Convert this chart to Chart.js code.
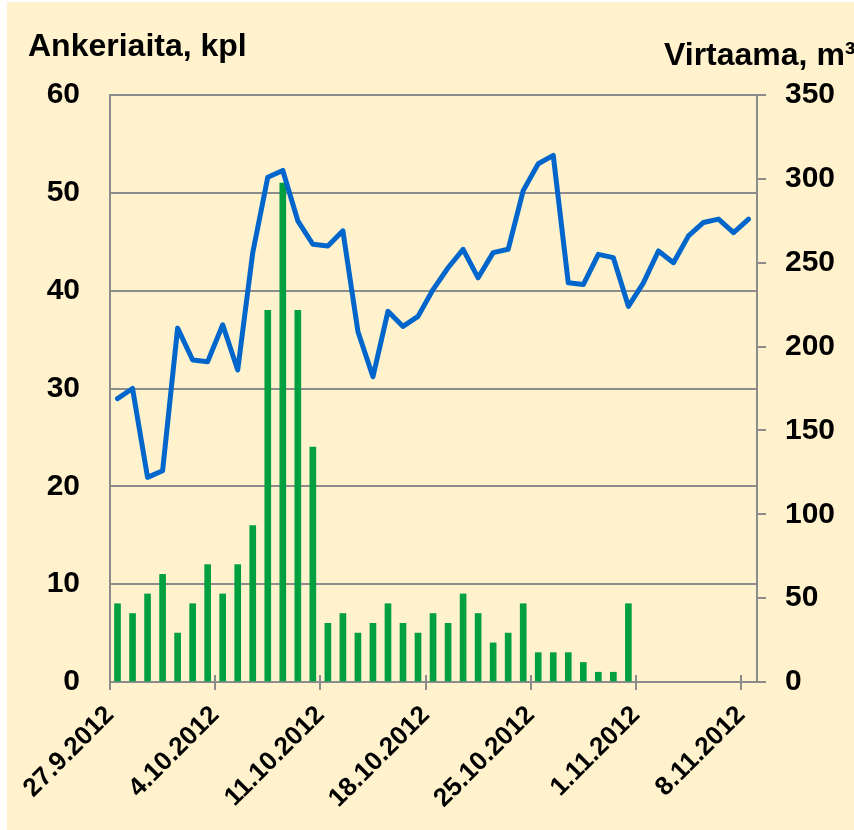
<!DOCTYPE html>
<html>
<head>
<meta charset="utf-8">
<script src="https://cdn.jsdelivr.net/npm/chart.js@4"></script>
<style>
  html, body { margin: 0; padding: 0; background: #ffffff; }
  #wrap { position: absolute; left: 7px; top: 2px; width: 847px; height: 828px; background: #FFF2CC; }
</style>
</head>
<body>
<div id="wrap"><canvas id="chart" width="847" height="828"></canvas></div>
<script>
// Ankeriaat (kpl/vrk), alkaen 27.9.2012
const eelCounts = [8, 7, 9, 11, 5, 8, 12, 9, 12, 16, 38, 51, 38, 24, 6, 7, 5, 6, 8, 6, 5,
                   7, 6, 9, 7, 4, 5, 8, 3, 3, 3, 2, 1, 1, 8];
// Virtaama m3/s, 27.9.2012 - 8.11.2012
const flowValues = [169, 175, 122, 126, 211, 192, 191, 213, 186, 256, 301, 305, 275, 261, 260,
                    269, 209, 182, 221, 212, 218, 234, 247, 258, 241, 256, 258, 293, 309, 314,
                    238, 237, 255, 253, 224, 238, 257, 250, 266, 274, 276, 268, 276];
const tickLabels = ['27.9.2012', '4.10.2012', '11.10.2012', '18.10.2012', '25.10.2012', '1.11.2012', '8.11.2012'];
const tickStepDays = 7;

const gridGray = '#8c8c8c';
const fontFamily = '"Liberation Sans", Arial, sans-serif';

// akselien otsikot ja x-akselin sisäpuoliset tikit
const extras = {
    id: 'extras',
    afterDraw(chart) {
        const ctx = chart.ctx;
        const x = chart.scales.x;
        const area = chart.chartArea;
        ctx.save();
        ctx.strokeStyle = gridGray;
        ctx.lineWidth = 2;
        x.ticks.forEach(t => {
            const px = Math.round(x.getPixelForValue(t.value));
            ctx.beginPath();
            ctx.moveTo(px, area.bottom - 7);
            ctx.lineTo(px, area.bottom);
            ctx.stroke();
        });
        ctx.fillStyle = '#000';
        ctx.font = 'bold 32px ' + fontFamily;
        ctx.textBaseline = 'alphabetic';
        ctx.textAlign = 'left';
        ctx.fillText('Ankeriaita, kpl', 21, 54);
        ctx.fillText('Virtaama, m³', 657, 63);
        ctx.restore();
    }
};

const ctx = document.getElementById('chart').getContext('2d');
const chart = new Chart(ctx, {
    data: {
        datasets: [
            {
                type: 'line',
                label: 'Virtaama',
                data: flowValues.map((v, i) => ({ x: i + 0.5, y: v })),
                yAxisID: 'y1',
                borderColor: '#0066CC',
                borderWidth: 5,
                pointRadius: 0,
                tension: 0,
                borderJoinStyle: 'round',
                borderCapStyle: 'round',
                order: 0
            },
            {
                type: 'bar',
                label: 'Ankeriaita',
                data: eelCounts.map((v, i) => ({ x: i + 0.5, y: v })),
                yAxisID: 'y',
                backgroundColor: '#00A040',
                barThickness: 6,
                order: 1
            }
        ]
    },
    options: {
        responsive: false,
        animation: false,
        layout: { padding: { top: 93, left: 0, right: 0, bottom: 0 } },
        plugins: { legend: { display: false }, tooltip: { enabled: false } },
        scales: {
            x: {
                type: 'linear',
                min: 0,
                max: 43.06,
                offset: false,
                afterBuildTicks: scale => {
                    scale.ticks = tickLabels.map((_, k) => ({ value: k * tickStepDays }));
                },
                afterFit: scale => { scale.height = 148; },
                grid: { offset: false, drawOnChartArea: false, drawTicks: true, tickLength: 8, color: gridGray, lineWidth: 2 },
                border: { display: true, color: gridGray, width: 2 },
                ticks: {
                    autoSkip: false,
                    minRotation: 45,
                    maxRotation: 45,
                    padding: 10,
                    color: '#000',
                    font: { family: fontFamily, size: 26, weight: 'bold' },
                    callback: (v, i) => tickLabels[i]
                }
            },
            y: {
                position: 'left',
                min: 0,
                max: 60,
                afterFit: scale => { scale.width = 103; },
                grid: { drawTicks: false, color: gridGray, lineWidth: 2 },
                border: { display: true, color: gridGray, width: 2 },
                ticks: {
                    stepSize: 10,
                    padding: 30,
                    color: '#000',
                    font: { family: fontFamily, size: 30, weight: 'bold' }
                }
            },
            y1: {
                position: 'right',
                min: 0,
                max: 350,
                afterFit: scale => { scale.width = 97; },
                grid: { drawOnChartArea: false, drawTicks: true, tickLength: 9, color: gridGray, lineWidth: 2 },
                border: { display: true, color: gridGray, width: 2 },
                ticks: {
                    stepSize: 50,
                    padding: 19,
                    color: '#000',
                    font: { family: fontFamily, size: 30, weight: 'bold' }
                }
            }
        }
    },
    plugins: [extras]
});
</script>
</body>
</html>
